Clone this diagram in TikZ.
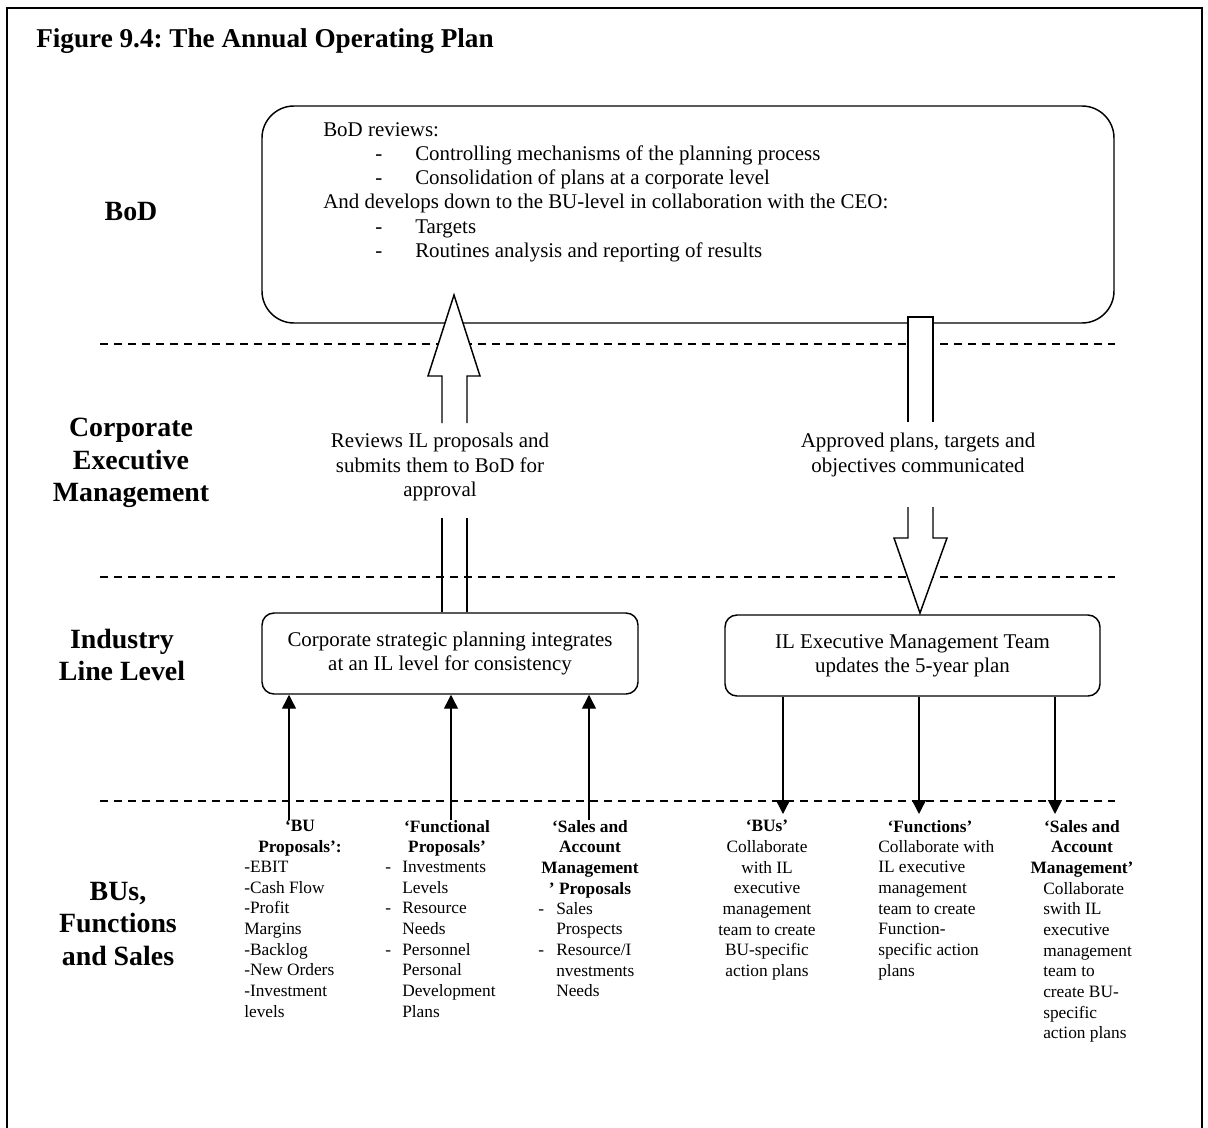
\documentclass[tikz,border=0pt]{standalone}
\usepackage{fontspec}
\setmainfont{Liberation Serif}
\usetikzlibrary{arrows.meta,calc}
\frenchspacing
\newcommand\txs{\fontsize{13}{15.5}\selectfont}
\newcommand\txm{\fontsize{15.7}{18.2}\selectfont}
\newcommand\txb{\fontsize{20.9}{24.5}\selectfont\bfseries}
\tikzset{
  rbox/.style={draw, line width=1.1pt, rounded corners=9pt, inner sep=0pt, align=center, font=\txm},
  lvl/.style={align=center, font=\txb, inner sep=0pt},
  sep/.style={dashed, dash pattern=on 6pt off 4.5pt, line width=1pt},
  blk/.style={draw, line width=1.1pt, fill=white, line join=miter},
  sarrow/.style={line width=1.1pt, -{Triangle[length=10.5pt,width=10.5pt]}},
  head/.style={align=center, font=\txs\bfseries, inner sep=0pt, anchor=north},
  body/.style={align=left, font=\txs, inner sep=0pt, anchor=north west},
  cbody/.style={align=center, font=\txs, inner sep=0pt, anchor=north},
}
\begin{document}
\begin{tikzpicture}[x=0.75pt,y=-0.75pt]
\useasboundingbox (0,0) rectangle (1208,1128);
% frame
\draw[line width=1.6pt] (7,1130) -- (7,8) -- (1202,8) -- (1202,1130);
% title
\node[anchor=base west, inner sep=0pt, font=\fontsize{20.4}{24}\selectfont\bfseries] (title) at (36,47) {Figure 9.4: The Annual Operating Plan};
% separators
\draw[sep] (100,344) -- (1115,344);
\draw[sep] (100,577) -- (1115,577);
\draw[sep] (100,801) -- (1115,801);
% level labels
\node[lvl] (lbod) at (131,212) {BoD};
\node[lvl] (lcem) at (131,463) {Corporate\\Executive\\Management};
\node[lvl] (lil) at (122,655) {Industry\\Line Level};
\node[lvl] (lbu) at (118,924) {BUs,\\Functions\\and Sales};
% BoD box
\node[rbox, rounded corners=24pt, minimum width=639pt, minimum height=162.75pt] (bod) at (688,214.5) {};
\node[anchor=north west, inner sep=0pt, align=left, font=\txm] (bodtext) at (323,122) {BoD reviews:\\
\hspace*{39pt}\makebox[30pt][l]{-}Controlling mechanisms of the planning process\\
\hspace*{39pt}\makebox[30pt][l]{-}Consolidation of plans at a corporate level\\
And develops down to the BU-level in collaboration with the CEO:\\
\hspace*{39pt}\makebox[30pt][l]{-}Targets\\
\hspace*{39pt}\makebox[30pt][l]{-}Routines analysis and reporting of results};
% IL boxes
\node[rbox, minimum width=282pt, minimum height=60.75pt] (il1) at (450,653.5) {Corporate strategic planning integrates\\at an IL level for consistency};
\node[rbox, minimum width=281.25pt, minimum height=60.75pt] (il2) at (912.5,655.5) {IL Executive Management Team\\updates the 5-year plan};
% up block arrow
\draw[blk] (442,423) -- (442,376) -- (428,376) -- (454,295) -- (480,376) -- (467,376) -- (467,423);
\coordinate (ul) at (442,518);
\coordinate (ur) at (467,518);
\draw[line width=1.1pt] (ul) -- (ul |- il1.north) (ur) -- (ur |- il1.north);
\node[align=center, font=\txm, inner sep=0pt] (uplab) at (440,467) {Reviews IL proposals and\\submits them to BoD for\\approval};
% down block arrow
\draw[blk] (908,422) -- (908,317) -- (933,317) -- (933,422);
\draw[blk] (908,507) -- (908,538) -- (894,538) -- (920,613) -- (947,538) -- (933,538) -- (933,507);
\node[align=center, font=\txm, inner sep=0pt] (dnlab) at (918,455) {Approved plans, targets and\\objectives communicated};
% small arrows
\coordinate (u1) at (289,820);
\coordinate (u2) at (451,820);
\coordinate (u3) at (589,820);
\draw[sarrow] (u1) -- (u1 |- il1.south);
\draw[sarrow] (u2) -- (u2 |- il1.south);
\draw[sarrow] (u3) -- (u3 |- il1.south);
\coordinate (d1) at (783,814);
\coordinate (d2) at (919,814);
\coordinate (d3) at (1055,814);
\draw[sarrow] (d1 |- il2.south) -- (d1);
\draw[sarrow] (d2 |- il2.south) -- (d2);
\draw[sarrow] (d3 |- il2.south) -- (d3);
% bottom texts
\node[head] (h1) at (300,820) {‘BU\\Proposals’:};
\node[body] (b1) at (244,861) {-EBIT\\-Cash Flow\\-Profit\\Margins\\-Backlog\\-New Orders\\-Investment\\levels};
\node[head] (h2) at (447,820) {‘Functional\\Proposals’};
\node[body] (b2) at (385,861) {\makebox[12.75pt][l]{-}Investments\\\hspace*{12.75pt}Levels\\\makebox[12.75pt][l]{-}Resource\\\hspace*{12.75pt}Needs\\\makebox[12.75pt][l]{-}Personnel\\\hspace*{12.75pt}Personal\\\hspace*{12.75pt}Development\\\hspace*{12.75pt}Plans};
\node[head] (h3) at (590,820) {‘Sales and\\Account\\Management\\’ Proposals};
\node[body] (b3) at (538,902) {\makebox[13.5pt][l]{-}Sales\\\hspace*{13.5pt}Prospects\\\makebox[13.5pt][l]{-}Resource/I\\\hspace*{13.5pt}nvestments\\\hspace*{13.5pt}Needs};
\node[cbody] (b4) at (767,820) {\textbf{‘BUs’}\\Collaborate\\with IL\\executive\\management\\team to create\\BU-specific\\action plans};
\node[head] (h5) at (930,820) {‘Functions’};
\node[body] (b5) at (878,840) {Collaborate with\\IL executive\\management\\team to create\\Function-\\specific action\\plans};
\node[head] (h6) at (1082,820) {‘Sales and\\Account\\Management’};
\node[body] (b6) at (1043,882) {Collaborate\\swith IL\\executive\\management\\team to\\create BU-\\specific\\action plans};
\end{tikzpicture}
\end{document}
